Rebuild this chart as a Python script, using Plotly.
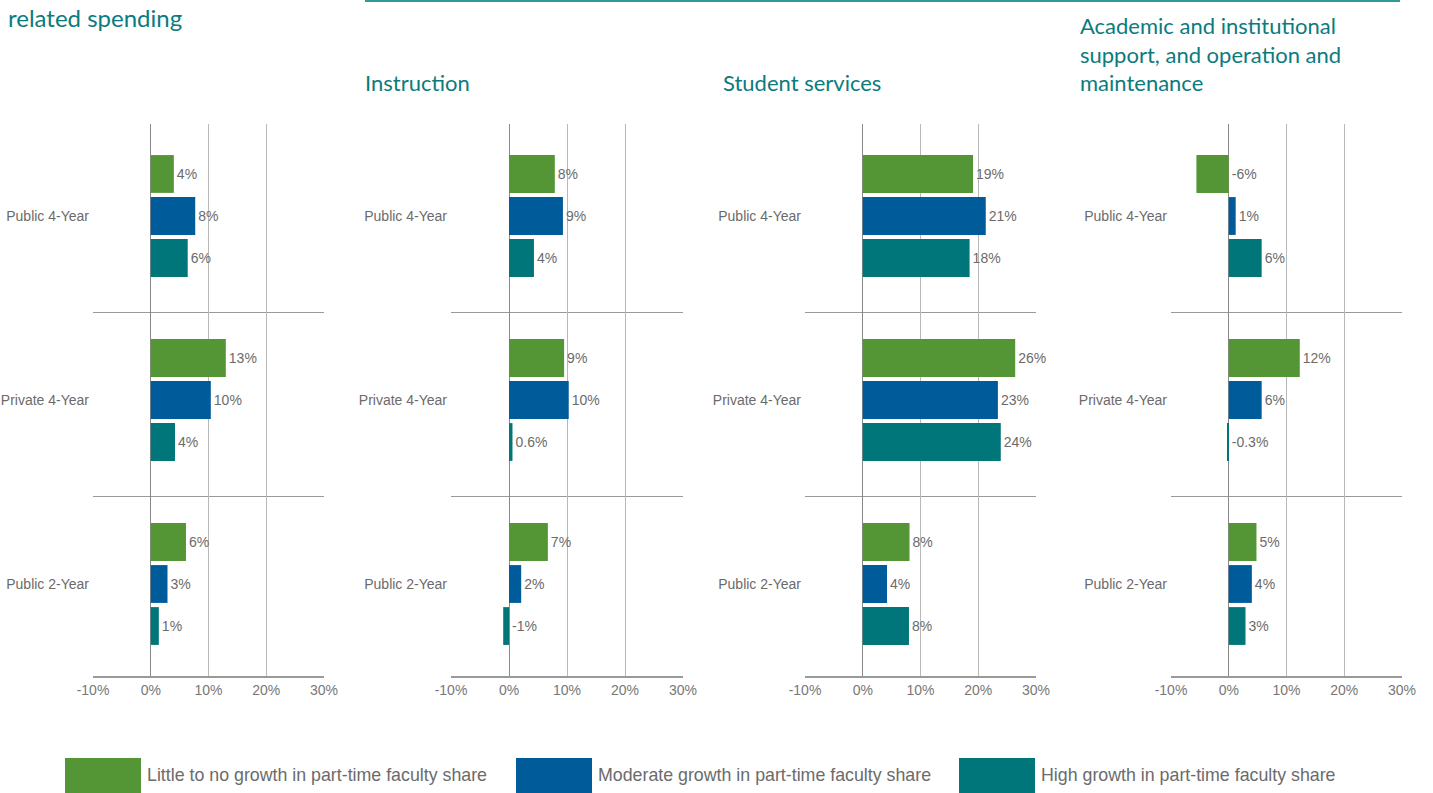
import plotly.graph_objects as go

# ---------------- data ----------------
categories = ["Public 4-Year", "Private 4-Year", "Public 2-Year"]
series_names = [
    "Little to no growth in part-time faculty share",
    "Moderate growth in part-time faculty share",
    "High growth in part-time faculty share",
]
panel_titles = [
    "",
    "Instruction",
    "Student services",
    "Academic and institutional<br>support, and operation and<br>maintenance",
]
page_heading = "related spending"

# panel 1: education and related spending
total_little = [4.0, 13.0, 6.1]
total_moderate = [7.7, 10.4, 2.9]
total_high = [6.4, 4.2, 1.4]
total_little_lbl = ["4%", "13%", "6%"]
total_moderate_lbl = ["8%", "10%", "3%"]
total_high_lbl = ["6%", "4%", "1%"]

# panel 2: instruction
instr_little = [7.9, 9.5, 6.7]
instr_moderate = [9.3, 10.3, 2.1]
instr_high = [4.3, 0.6, -1.0]
instr_little_lbl = ["8%", "9%", "7%"]
instr_moderate_lbl = ["9%", "10%", "2%"]
instr_high_lbl = ["4%", "0.6%", "-1%"]

# panel 3: student services
serv_little = [19.1, 26.4, 8.1]
serv_moderate = [21.3, 23.4, 4.2]
serv_high = [18.5, 23.9, 8.0]
serv_little_lbl = ["19%", "26%", "8%"]
serv_moderate_lbl = ["21%", "23%", "4%"]
serv_high_lbl = ["18%", "24%", "8%"]

# panel 4: academic & institutional support, O&M
acad_little = [-5.6, 12.3, 4.8]
acad_moderate = [1.2, 5.7, 4.0]
acad_high = [5.7, -0.3, 2.9]
acad_little_lbl = ["-6%", "12%", "5%"]
acad_moderate_lbl = ["1%", "6%", "4%"]
acad_high_lbl = ["6%", "-0.3%", "3%"]

x_tickvals = [-10, 0, 10, 20, 30]
x_ticktext = ["-10%", "0%", "10%", "20%", "30%"]

# ---------------- style ----------------
W, H = 1433, 793
colors = ["#549636", "#005b9a", "#00757a"]
teal_text = "#0b7b7d"
gray_text = "#6b6b6b"
sans = "Liberation Sans, Arial, sans-serif"
humanist = "Lato, Open Sans, sans-serif"

panels = [
    ([total_little, total_moderate, total_high],
     [total_little_lbl, total_moderate_lbl, total_high_lbl]),
    ([instr_little, instr_moderate, instr_high],
     [instr_little_lbl, instr_moderate_lbl, instr_high_lbl]),
    ([serv_little, serv_moderate, serv_high],
     [serv_little_lbl, serv_moderate_lbl, serv_high_lbl]),
    ([acad_little, acad_moderate, acad_high],
     [acad_little_lbl, acad_moderate_lbl, acad_high_lbl]),
]

# pixel extents of each plot area
px_x = [(93, 324), (451, 683), (805, 1036), (1171, 1402)]
px_top, px_bottom = 124, 676

fig = go.Figure()
ypos = list(range(len(categories)))

for p, (vals, lbls) in enumerate(panels):
    xa = "x" if p == 0 else f"x{p+1}"
    ya = "y" if p == 0 else f"y{p+1}"
    for s in range(3):
        fig.add_trace(go.Bar(
            x=vals[s], y=ypos, orientation="h",
            marker=dict(color=colors[s], line=dict(width=0)),
            name=series_names[s], offsetgroup=str(s),
            xaxis=xa, yaxis=ya, showlegend=False,
            hovertemplate="%{x}%<extra>" + series_names[s] + "</extra>",
        ))
    # label carriers: transparent bars ending at max(value, 0)
    for s in range(3):
        fig.add_trace(go.Bar(
            x=[max(v, 0) for v in vals[s]], y=ypos, orientation="h",
            marker=dict(color="rgba(0,0,0,0)", line=dict(width=0)),
            offsetgroup=str(s), text=lbls[s], textposition="outside",
            textfont=dict(family=sans, size=14, color=gray_text),
            cliponaxis=False, xaxis=xa, yaxis=ya, showlegend=False,
            hoverinfo="skip",
        ))

layout_axes = {}
for p in range(4):
    x0, x1 = px_x[p]
    xkey = "xaxis" if p == 0 else f"xaxis{p+1}"
    ykey = "yaxis" if p == 0 else f"yaxis{p+1}"
    layout_axes[xkey] = dict(
        domain=[x0 / W, x1 / W], range=[-10, 30], anchor="y" if p == 0 else f"y{p+1}",
        tickvals=x_tickvals, ticktext=x_ticktext,
        tickfont=dict(family=sans, size=14, color="#777777"),
        showgrid=True, gridcolor="#b8b8b8", gridwidth=1,
        zeroline=True, zerolinecolor="#8a8a8a", zerolinewidth=1,
        showline=True, linecolor="#9a9a9a", linewidth=1.5, mirror=False,
        ticks="", fixedrange=True, automargin=False,
    )
    layout_axes[ykey] = dict(
        domain=[1 - px_bottom / H, 1 - px_top / H],
        anchor="x" if p == 0 else f"x{p+1}",
        range=[2.5, -0.5], tickvals=ypos, ticktext=categories,
        tickfont=dict(family=sans, size=14, color=gray_text),
        ticklabelstandoff=3,
        showgrid=False, zeroline=False, showline=False, ticks="",
        minor=dict(tickvals=[0.527, 1.527], showgrid=True, gridcolor="#9a9a9a", gridwidth=1),
        fixedrange=True, automargin=False,
    )

annotations = []
# panel titles (bottom of text box placed so last baseline sits near y=91)
title_x = [None, 365, 723, 1080]
for p in range(1, 4):
    annotations.append(dict(
        text=panel_titles[p], x=(title_x[p] - 2) / W, y=1 - 98 / H,
        xref="paper", yref="paper", xanchor="left", yanchor="bottom",
        align="left", showarrow=False,
        font=dict(family=humanist, size=22, color=teal_text),
    ))
annotations.append(dict(
    text=page_heading, x=6 / W, y=1 - 1 / H,
    xref="paper", yref="paper", xanchor="left", yanchor="top",
    showarrow=False, font=dict(family=humanist, size=24, color=teal_text),
))

# manual legend
shapes = []
leg_x = [65, 516, 959]
for s in range(3):
    shapes.append(dict(
        type="rect", xref="paper", yref="paper",
        x0=leg_x[s] / W, x1=(leg_x[s] + 76) / W,
        y0=0, y1=1 - 758 / H,
        fillcolor=colors[s], line=dict(width=0),
    ))
    annotations.append(dict(
        text=series_names[s], x=(leg_x[s] + 80) / W, y=1 - 775 / H,
        xref="paper", yref="paper", xanchor="left", yanchor="middle",
        showarrow=False, font=dict(family=sans, size=17.8, color=gray_text),
    ))
# top rule
shapes.append(dict(
    type="line", xref="paper", yref="paper",
    x0=365 / W, x1=1400 / W, y0=1 - 1 / H, y1=1 - 1 / H,
    line=dict(color="#2f9a9a", width=2),
))

fig.update_layout(
    width=W, height=H, autosize=False,
    margin=dict(l=0, r=0, t=0, b=0),
    paper_bgcolor="white", plot_bgcolor="white",
    barmode="group", bargap=0.315, bargroupgap=0.1,
    showlegend=False,
    annotations=annotations, shapes=shapes,
    **layout_axes,
)

fig.write_html(
    "out.html",
    config={"displayModeBar": False},
    post_script="document.body.style.margin='0';document.body.style.overflow='hidden';",
)
